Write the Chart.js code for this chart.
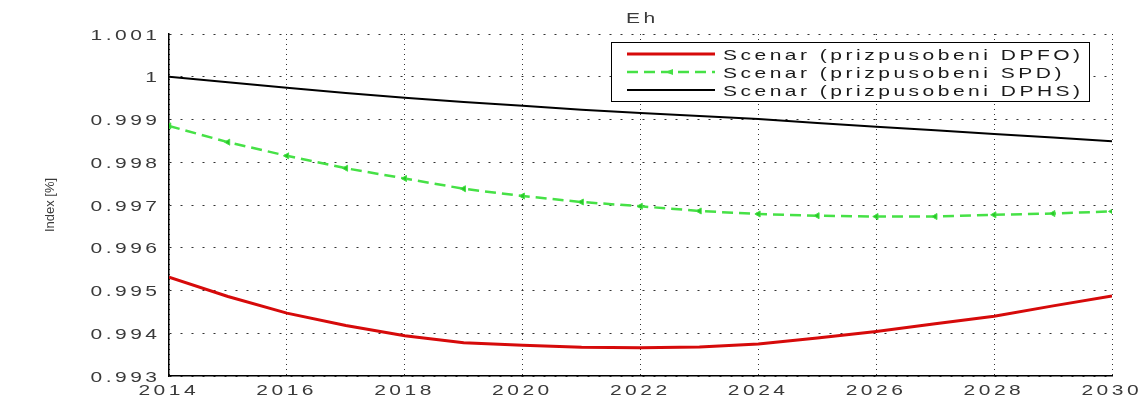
<!DOCTYPE html>
<html>
<head>
<meta charset="utf-8">
<script src="https://cdn.jsdelivr.net/npm/chart.js@4.4.1/dist/chart.umd.min.js"></script>
<style>
  html, body { margin: 0; padding: 0; background: #fff; }
  #wrap { width: 1142px; height: 396px; }
</style>
</head>
<body>
<div id="wrap"><canvas id="chart"></canvas></div>
<script>
// index series, one value per year
const years = [2014, 2015, 2016, 2017, 2018, 2019, 2020, 2021, 2022, 2023, 2024, 2025, 2026, 2027, 2028, 2029, 2030];
const dpfo = [0.99531, 0.99486, 0.99447, 0.99418, 0.99394, 0.99378, 0.99372, 0.99367, 0.99366, 0.99368, 0.99375, 0.99389, 0.99404, 0.99422, 0.99440, 0.99464, 0.99487];
const spd = [0.99885, 0.99847, 0.99815, 0.99786, 0.99762, 0.99738, 0.99721, 0.99707, 0.99697, 0.99686, 0.99679, 0.99675, 0.99673, 0.99673, 0.99677, 0.99680, 0.99685];
const dphs = [1.00000, 0.99987, 0.99974, 0.99962, 0.99951, 0.99941, 0.99932, 0.99923, 0.99915, 0.99908, 0.99901, 0.99892, 0.99883, 0.99875, 0.99866, 0.99858, 0.99849];

const seriesLabels = ['Scenar (prizpusobeni DPFO)', 'Scenar (prizpusobeni SPD)', 'Scenar (prizpusobeni DPHS)'];
const titleText = 'Eh';
const yTitle = 'Index [%]';

const FONT = '15px "Liberation Sans", Arial, sans-serif';
const STRETCH = 1.4;
const SPACING = 2.5;

function toPoints(vals) {
  return years.map((x, i) => ({ x: x, y: vals[i] }));
}

// wide, loosely spaced text like the old plot export
function wideText(ctx, text, x, y, align) {
  ctx.save();
  ctx.font = FONT;
  ctx.letterSpacing = SPACING + 'px';
  ctx.textBaseline = 'alphabetic';
  const w = (ctx.measureText(text).width - SPACING) * STRETCH;
  let left = x;
  if (align === 'center') left = x - w / 2;
  else if (align === 'right') left = x - w;
  ctx.translate(left, y);
  ctx.scale(STRETCH, 1);
  ctx.textAlign = 'left';
  ctx.fillText(text, 0, 0);
  ctx.restore();
}

const textPlugin = {
  id: 'matlabText',
  afterDraw(chart) {
    const ctx = chart.ctx;
    const xs = chart.scales.x, ys = chart.scales.y;
    const area = chart.chartArea;
    ctx.save();
    ctx.fillStyle = '#3a3a3a';

    ys.ticks.forEach(t => {
      const py = ys.getPixelForValue(t.value);
      wideText(ctx, Number(t.value.toFixed(3)).toString(), area.left - 12, py + 5.5, 'right');
    });
    xs.ticks.forEach(t => {
      const px = xs.getPixelForValue(t.value);
      wideText(ctx, String(t.value), px - 2, 395, 'center');
    });

    wideText(ctx, titleText, (area.left + area.right) / 2, 23, 'center');

    ctx.save();
    ctx.font = '13px "Liberation Sans", Arial, sans-serif';
    ctx.translate(54, (area.top + area.bottom) / 2);
    ctx.rotate(-Math.PI / 2);
    ctx.textAlign = 'center';
    ctx.fillText(yTitle, 0, 0);
    ctx.restore();

    // legend box
    const bx = 611, by = 42, bw = 478, bh = 59;
    ctx.fillStyle = '#fff';
    ctx.fillRect(bx, by, bw, bh);
    ctx.strokeStyle = '#000';
    ctx.lineWidth = 1;
    ctx.strokeRect(bx + 0.5, by + 0.5, bw, bh);
    chart.data.datasets.forEach((ds, i) => {
      const ry = 54 + i * 18;
      ctx.save();
      ctx.strokeStyle = ds.borderColor;
      ctx.lineWidth = ds.borderWidth;
      ctx.setLineDash(ds.borderDash || []);
      ctx.beginPath();
      ctx.moveTo(627, ry);
      ctx.lineTo(715, ry);
      ctx.stroke();
      if (ds.pointRadius > 0) {
        ctx.fillStyle = ds.borderColor;
        ctx.beginPath();
        ctx.moveTo(665, ry);
        ctx.lineTo(673, ry - 3);
        ctx.lineTo(673, ry + 3);
        ctx.closePath();
        ctx.fill();
      }
      ctx.restore();
      ctx.fillStyle = '#1a1a1a';
      wideText(ctx, ds.label, 723, ry + 5.5, 'left');
    });
    ctx.restore();
  }
};

const ctx = document.getElementById('chart').getContext('2d');
new Chart(ctx, {
  type: 'line',
  data: {
    datasets: [
      {
        label: seriesLabels[0],
        data: toPoints(dpfo),
        borderColor: 'rgb(214, 10, 10)',
        borderWidth: 3,
        pointRadius: 0,
        tension: 0
      },
      {
        label: seriesLabels[1],
        data: toPoints(spd),
        borderColor: 'rgb(70, 225, 70)',
        backgroundColor: 'rgb(40, 200, 40)',
        borderWidth: 2.5,
        borderDash: [11, 6],
        pointStyle: 'triangle',
        rotation: -90,
        pointRadius: 3.5,
        pointBorderWidth: 1,
        tension: 0
      },
      {
        label: seriesLabels[2],
        data: toPoints(dphs),
        borderColor: '#000',
        borderWidth: 2,
        pointRadius: 0,
        tension: 0
      }
    ]
  },
  plugins: [textPlugin],
  options: {
    responsive: true,
    maintainAspectRatio: false,
    animation: false,
    events: [],
    layout: { padding: { left: 169, right: 30, top: 34, bottom: 20 } },
    plugins: {
      legend: { display: false },
      title: { display: false },
      tooltip: { enabled: false }
    },
    scales: {
      x: {
        type: 'linear',
        min: 2014,
        max: 2030,
        ticks: { display: false, stepSize: 2 },
        grid: { color: '#333', lineWidth: 1, drawTicks: false },
        border: { display: true, color: '#000', width: 1.5, dash: [1, 4] },
        afterFit(scale) { scale.height = 0; }
      },
      y: {
        min: 0.993,
        max: 1.001,
        ticks: { display: false, stepSize: 0.001 },
        grid: { color: '#333', lineWidth: 1, drawTicks: false },
        border: { display: true, color: '#000', width: 1.5, dash: [2, 9] },
        afterFit(scale) { scale.width = 0; }
      }
    }
  }
});
</script>
</body>
</html>
